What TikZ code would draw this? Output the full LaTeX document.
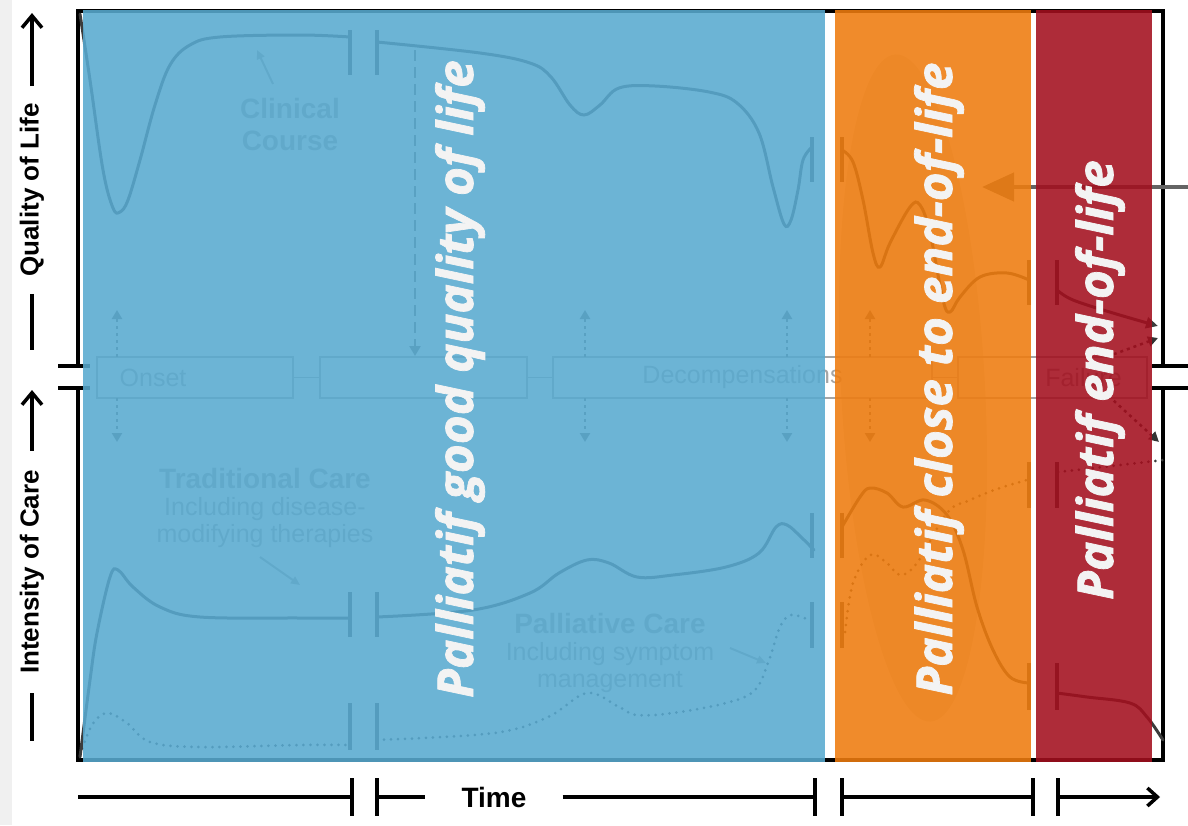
\documentclass[tikz,border=0pt]{standalone}
\usepackage{fontspec}
\setmainfont{Liberation Sans}
\newfontfamily\bandfont{Open Sans}[BoldItalicFeatures={FakeBold=1.5}]
\usetikzlibrary{arrows.meta}

\definecolor{bandblue}{RGB}{88,170,208}
\definecolor{bandorange}{RGB}{239,124,14}
\definecolor{bandred}{RGB}{163,15,30}
\definecolor{curvegrey}{RGB}{60,60,60}
\definecolor{arrowgrey}{RGB}{100,100,100}
\definecolor{labelgrey}{RGB}{165,165,165}
\definecolor{bandtext}{RGB}{243,243,243}

\begin{document}
\begin{tikzpicture}[x=1pt,y=1pt,yscale=-1,
  frame/.style={line width=3.5pt,black},
  curve/.style={line width=3pt,curvegrey,line cap=round},
  dotcurve/.style={line width=3pt,curvegrey,line cap=round,dash pattern=on 0pt off 7pt},
  breakbar/.style={line width=4.5pt,curvegrey},
  stagebox/.style={draw=labelgrey,line width=1.5pt,minimum height=41pt,inner sep=0pt,text=labelgrey,font=\fontsize{25}{25}\selectfont},
  faint/.style={text=labelgrey,align=center,font=\fontsize{25}{27}\selectfont},
  pointer/.style={line width=2pt,labelgrey,-{Triangle[length=9pt,width=8pt]}},
  dotarrow/.style={line width=2.5pt,arrowgrey,dash pattern=on 3pt off 4pt,-{Triangle[length=9pt,width=10pt]}},
  band/.style={fill opacity=0.88,draw=none},
  bandlabel/.style={rotate=90,anchor=base,inner sep=0pt,text=bandtext,font=\bandfont\bfseries\itshape\fontsize{49.5}{50}\selectfont},
  axislabel/.style={rotate=90,inner ysep=0pt,font=\bfseries\fontsize{26}{26}\selectfont},
]
\fill[white] (0,0) rectangle (1188,825);
\fill[black!6] (0,0) rectangle (12,825);
\useasboundingbox (0,0) rectangle (1188,825);

%Shape: shaded ellipse
\fill[black!12,rotate around={-3:(913,388)}] (913,388) ellipse [x radius=72,y radius=334];

%Shape: frame
\draw[frame] (78,366) -- (78,11) -- (1163,11) -- (1163,366);
\draw[frame] (78,388) -- (78,760) -- (1163,760) -- (1163,388);
\draw[frame] (58,366) -- (90,366) (58,388) -- (90,388);
\draw[frame] (1152,366) -- (1188,366) (1152,388) -- (1188,388);

%Curves: clinical course
\draw[curve] plot[smooth,tension=0.6] coordinates {(80,14) (90,80) (103,170) (113,208) (120,212) (128,200) (140,160) (155,105) (170,65) (190,45) (220,37) (300,35) (350,37)};
\draw[curve] plot[smooth,tension=0.6] coordinates {(377,42) (480,53) (530,63) (551,77) (570,105) (584,115) (600,105) (619,88) (655,86) (709,92) (737,103) (759,133) (773,187) (784,224) (791,220) (798,190) (803,160) (812,147)};
\draw[curve] plot[smooth,tension=0.6] coordinates {(842,150) (853,162) (863,200) (873,253) (880,267) (890,243) (910,207) (920,205) (930,233) (943,300) (950,312) (960,297) (980,277) (1007,273) (1029,280)};
\draw[curve,-{Triangle[length=12pt,width=11pt]}] plot[smooth,tension=0.6] coordinates {(1057,290) (1073,300) (1113,313) (1158,326)};

%Curves: traditional care
\draw[curve] plot[smooth,tension=0.6] coordinates {(80,757) (90,680) (97,633) (110,577) (118,570) (133,587) (160,607) (200,617) (300,618) (350,618)};
\draw[curve] plot[smooth,tension=0.6] coordinates {(377,617) (473,610) (530,593) (559,573) (587,560) (609,563) (637,577) (673,575) (726,567) (759,553) (776,527) (787,525) (801,537) (814,550)};
\draw[curve] plot[smooth,tension=0.6] coordinates {(842,527) (860,497) (870,488) (887,493) (903,507) (925,500) (947,515) (963,550) (977,607) (993,650) (1010,677) (1029,683)};
\draw[curve] plot[smooth,tension=0.6] coordinates {(1057,693) (1087,697) (1130,703) (1147,717) (1163,740)};

%Curves: palliative care
\draw[dotcurve] plot[smooth,tension=0.6] coordinates {(80,755) (92,725) (107,713) (127,723) (150,742) (200,747) (300,745) (350,745)};
\draw[dotcurve] plot[smooth,tension=0.6] coordinates {(377,740) (494,733) (548,717) (587,693) (619,707) (637,715) (673,713) (726,703) (755,690) (769,660) (780,627) (791,615) (809,620)};
\draw[dotcurve] plot[smooth,tension=0.6] coordinates {(845,632) (853,583) (870,555) (887,563) (900,575) (917,563) (947,513) (970,500) (1000,488) (1027,480)};
\draw[dotcurve] plot[smooth,tension=0.6] coordinates {(1058,472) (1103,467) (1163,460)};

%Break bars
\foreach \bx in {350,377} {
  \draw[breakbar] (\bx,30) -- (\bx,75) (\bx,592) -- (\bx,637) (\bx,703) -- (\bx,750);
}
\foreach \bx in {812,842} {
  \draw[breakbar] (\bx,137) -- (\bx,182) (\bx,513) -- (\bx,558) (\bx,602) -- (\bx,648);
}
\foreach \bx in {1029,1057} {
  \draw[breakbar] (\bx,260) -- (\bx,305) (\bx,663) -- (\bx,710) (\bx,462) -- (\bx,508);
}

%Stage boxes
\node[stagebox,minimum width=196pt] (onset) at (195,377.5) {\hspace*{-84pt}Onset};
\node[stagebox,minimum width=207pt] (stagetwo) at (423.5,377.5) {};
\node[stagebox,minimum width=379pt] (decomp) at (742.5,377.5) {Decompensations};
\node[stagebox,minimum width=189pt] (failure) at (1052.5,377.5) {\hspace*{62pt}Failure};
\draw[labelgrey,line width=1.5pt] (onset) -- (stagetwo) (stagetwo) -- (decomp) (decomp) -- (failure);

%Dotted arrows off the stages
\foreach \ax in {117,585,787,870} {
  \draw[dotarrow] (\ax,357) -- (\ax,310);
  \draw[dotarrow] (\ax,398) -- (\ax,442);
}
\draw[line width=2.5pt,arrowgrey,dash pattern=on 11pt off 6pt,-{Triangle[length=10pt,width=11pt]}] (415,50) -- (415,356);
\draw[line width=2.5pt,black!80,dash pattern=on 3pt off 4pt,-{Triangle[length=10pt,width=10pt]}] (failure.north east) ++(-34,-2) -- (1158,338);
\draw[line width=2.5pt,black!80,dash pattern=on 3pt off 4pt,-{Triangle[length=10pt,width=10pt]}] (failure.south east) ++(-34,2) -- (1159,442);

%Grey arrow from the right
\draw[line width=4.5pt,arrowgrey,-{Triangle[length=32pt,width=28pt]}] (1188,187) -- (982,187);

% Text Node
\node[faint,font=\bfseries\fontsize{28}{32}\selectfont] (clinical) at (290,124) {Clinical\\Course};
\node[faint] (traditional) at (265,508) {{\bfseries\fontsize{28}{27}\selectfont Traditional Care}\\Including disease-\\modifying therapies};
\node[faint] (palliative) at (610,653) {{\bfseries\fontsize{28}{27}\selectfont Palliative Care}\\Including symptom\\management};
\draw[pointer] (273,84) -- (257,50);
\draw[pointer] (260,557) -- (300,585);
\draw[pointer] (730,648) -- (766,663);

%Bands
\fill[band,bandblue] (83,10) rectangle (825,762);
\fill[band,bandorange] (835,10) rectangle (1031,762);
\fill[band,bandred] (1036,10) rectangle (1152,762);

% Text Node
\node[bandlabel] (goodlife) at (473,379) {Palliatif good quality of life};
\node[bandlabel] (closeend) at (952,379) {Palliatif close to end-of-life};
\node[bandlabel] (endlife) at (1113,380) {Palliatif end-of-life};

%Axis labels
\node[axislabel,inner xsep=17pt] (qol) at (32,190) {Quality of Life};
\draw[frame] (qol.west) -- ++(0,56);
\draw[frame,-{Straight Barb[length=12pt,width=20pt]}] (qol.east) -- (32,13);
\node[axislabel,inner xsep=19pt] (care) at (32,572) {Intensity of Care};
\draw[frame] (care.west) -- ++(0,48);
\draw[frame,-{Straight Barb[length=12pt,width=20pt]}] (care.east) -- (32,390);

%Time axis
\node[font=\bfseries\fontsize{28}{28}\selectfont,inner xsep=36pt] (time) at (494,797) {Time};
\draw[frame] (78,797) -- (350,797);
\draw[frame] (377,797) -- (time.west);
\draw[frame] (time.east) -- (815,797);
\draw[frame] (842,797) -- (1033,797);
\draw[frame,-{Straight Barb[length=10pt,width=18pt]}] (1058,797) -- (1160,797);
\foreach \tx in {352,377,815,842,1033,1058} {
  \draw[line width=4.5pt] (\tx,778) -- (\tx,816);
}
\end{tikzpicture}
\end{document}
